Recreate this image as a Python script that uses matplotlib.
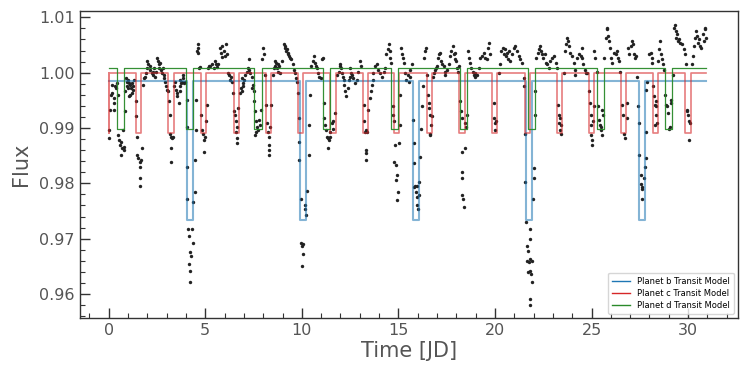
import matplotlib
matplotlib.use("Agg")
import matplotlib.pyplot as plt
import numpy as np

time = [
    0.00, 0.04, 0.07, 0.12, 0.16, 0.19, 0.25, 0.28, 0.28, 0.33, 0.39, 0.42, 0.47, 0.50, 0.55, 0.59, 0.64, 0.68,
    0.62, 0.77, 0.80, 0.73, 0.85, 0.85, 0.90, 0.94, 1.02, 1.07, 1.11, 1.15, 1.20, 1.25, 1.28, 1.20, 1.11, 1.07,
    1.02, 0.97, 1.33, 1.42, 1.42, 1.49, 1.45, 1.54, 1.60, 1.67, 1.63, 1.60, 1.60, 1.70,
    1.80, 1.84, 1.89, 1.94, 1.97, 2.00, 2.06, 2.12, 2.15, 2.23, 2.28, 2.32, 2.35, 2.40, 2.45, 2.50, 2.53, 2.58,
    2.63, 2.67, 2.72, 2.75, 2.80, 2.84, 2.89, 2.92, 2.98, 3.01, 3.07,
    3.12, 3.15, 3.18, 3.23, 3.28, 3.23, 3.25, 3.32,
    3.40, 3.45, 3.50, 3.53, 3.56, 3.62, 3.67, 3.70, 3.75, 3.78, 3.84, 3.87, 3.90, 3.96, 3.70,
    4.05, 4.08, 4.08, 4.08, 4.13, 4.18, 4.22, 4.25, 4.18, 4.22, 4.22, 4.30, 4.35, 4.39, 4.45, 4.48, 4.51, 4.53,
    4.57, 4.60, 4.63, 4.62, 4.70, 4.73,
    4.77, 4.82, 4.87, 4.95, 4.91, 5.00, 5.05, 5.08, 5.12, 5.17,
    5.26, 5.34, 5.43, 5.48, 5.55, 5.61, 5.68, 5.78, 5.83, 5.86, 5.95, 6.00, 6.06, 6.11, 5.89, 6.18, 6.24, 6.29,
    6.34, 6.38,
    6.46, 6.50, 6.55, 6.58, 6.63, 6.60, 6.63, 6.63, 6.72,
    6.78, 6.83, 6.90, 6.93, 6.98, 7.03, 7.06, 7.16, 7.21, 7.24, 7.29, 7.34, 7.41, 7.45, 7.50, 7.41, 6.90,
    7.55, 7.58, 7.62, 7.66, 7.63, 7.73, 7.79, 7.84, 7.58, 7.89,
    7.96, 8.01, 8.06, 8.10,
    8.16, 8.19, 8.24, 8.28, 8.28, 8.28, 8.31, 8.36, 8.41,
    8.49, 8.54, 8.59, 8.62, 8.68, 8.71, 8.76, 8.79, 8.83, 8.88, 8.96, 9.06, 9.11, 9.14, 9.19, 9.23, 9.28, 9.31,
    9.35, 9.40, 9.45, 9.52, 9.58, 9.63, 9.69, 9.74,
    9.79, 9.83, 9.88, 9.88, 9.94, 9.97, 10.01, 10.04, 10.08, 10.01, 10.14, 10.18, 10.21, 10.26, 10.36, 10.39, 10.42,
    10.49, 10.56, 10.61,
    10.69, 10.74, 10.81, 10.86, 10.91, 10.99, 11.04, 11.09,
    11.13, 11.17, 11.22, 11.27, 11.30, 11.34, 11.39, 11.34, 11.44, 11.47,
    11.56, 11.61, 11.64, 11.73,
    11.82, 11.90, 11.96, 11.99, 12.04, 12.07, 12.12, 12.16, 12.19, 12.24, 12.30, 12.37, 12.42, 12.47, 12.51,
    12.56, 12.62, 12.67, 12.76, 12.84, 12.93, 13.01, 13.06,
    13.20, 13.24, 13.29, 13.34, 13.34, 13.34, 13.30, 13.40, 13.45,
    13.51, 13.57, 13.62, 13.67, 13.71, 13.80, 13.89, 13.97, 14.06, 14.15, 14.24, 14.32, 14.37, 14.44, 14.50,
    14.55, 14.58, 14.62,
    14.70, 14.72, 14.75, 14.84, 14.79, 14.89, 14.92, 14.89, 14.96, 14.92, 15.01, 15.07, 15.10,
    15.15, 15.19, 15.24, 15.27, 15.36, 15.41, 15.48, 15.53, 15.58, 15.62, 15.70,
    15.76, 15.80, 15.83, 15.83, 15.88, 15.93, 15.97, 15.97, 16.00,
    15.96, 16.05, 16.08, 16.13, 16.18, 16.22, 16.26,
    16.31, 16.40, 16.43, 16.48,
    16.53, 16.57, 16.60, 16.65, 16.70, 16.65, 16.63, 16.73, 16.77,
    16.83, 16.88, 16.95, 17.00, 17.05, 17.12, 17.17, 17.22, 17.25, 17.35, 17.40, 17.43, 17.52, 17.60, 17.68,
    17.74, 17.81, 17.86, 17.91, 17.95, 17.98, 18.03, 18.08, 18.12,
    18.21, 18.25, 18.30, 18.30, 18.43, 18.30, 18.30, 18.30, 18.35, 18.38, 18.47, 18.50, 18.53,
    18.61, 18.68, 18.73, 18.78, 18.85, 18.90, 18.95, 18.98, 19.07, 19.15, 19.25, 19.33, 19.41, 19.50, 19.59,
    19.64, 19.71, 19.76,
    19.93, 19.96, 20.01, 19.98, 20.05,
    20.20, 20.28, 20.33, 20.40, 20.45, 20.50, 20.58, 20.63, 20.68, 20.75, 20.80, 20.89, 20.98, 21.06, 21.15,
    21.24, 21.32, 21.41, 21.49, 21.52,
    21.58, 21.58, 21.63, 21.66, 21.69, 21.66, 21.76, 21.69, 21.81, 21.84, 21.87, 21.92, 21.92, 21.81, 21.84,
    21.81, 21.81, 21.97, 22.01, 22.04, 22.09, 22.09,
    22.14, 22.22, 22.27, 22.32, 22.36, 22.44, 22.49, 22.57, 22.62, 22.70, 22.79, 22.87, 22.97, 23.05, 23.14, 23.19,
    23.25, 23.31, 23.37, 23.31, 23.40, 23.37, 23.43,
    23.57, 23.65, 23.70, 23.74, 23.79, 23.82, 23.91, 24.00, 24.09, 24.14, 24.17, 24.26, 24.34, 24.43, 24.49,
    24.52, 24.57, 24.64, 24.69, 24.78,
    24.87, 24.90, 24.95, 24.95, 24.99, 25.04, 25.00, 25.09, 25.12,
    25.15, 25.20, 25.26, 25.32, 25.37, 25.42, 25.47, 25.50, 25.55, 25.60, 25.55,
    25.67, 25.73, 25.78, 25.82, 25.85, 25.90, 25.95, 26.02, 26.07, 26.16, 26.25, 26.30, 26.37, 26.42, 26.50,
    26.59, 26.65, 26.68, 26.71, 26.82, 26.85,
    26.88, 26.93, 27.03, 27.08, 27.15, 27.20, 27.25, 27.31, 27.37,
    27.42, 27.45, 27.45, 27.54, 27.54, 27.60, 27.63, 27.63, 27.71, 27.76, 27.83, 27.80, 27.83,
    27.88, 27.98, 28.06, 28.11, 28.15, 28.20,
    28.23, 28.28, 28.32, 28.35, 28.32, 28.28, 28.40,
    28.46, 28.49, 28.54, 28.58, 28.63, 28.70, 28.75,
    28.83, 28.87, 28.92, 28.97, 29.00, 29.09, 29.14, 29.04,
    29.21, 29.26, 29.32, 29.35, 29.40, 29.43, 29.48, 29.52, 29.60, 29.70, 29.78, 29.84, 29.87,
    29.92, 29.95, 30.00, 30.07, 30.12, 30.03,
    30.21, 30.26, 30.33, 30.38, 30.43, 30.47, 30.52, 30.59, 30.64, 30.69, 30.77, 30.82, 30.87, 30.90, 30.95,
]
flux = [
    0.9881, 0.9896, 0.9933, 0.9960, 0.9978, 0.9963, 0.9954, 0.9945, 0.9933, 0.9975, 0.9972, 0.9981, 0.9960, 0.9887, 0.9878, 0.9869, 0.9875, 0.9863,
    0.9852, 0.9866, 0.9860, 0.9896, 0.9966, 0.9930, 0.9990, 0.9984, 0.9987, 0.9981, 0.9978, 0.9972, 0.9981, 0.9975, 0.9969, 0.9963, 0.9960, 0.9957,
    0.9972, 0.9975, 0.9987, 0.9948, 0.9921, 0.9884, 0.9851, 0.9845, 0.9839, 0.9842, 0.9830, 0.9809, 0.9796, 0.9863,
    0.9978, 0.9990, 0.9993, 0.9999, 1.0008, 1.0021, 1.0015, 1.0005, 1.0012, 0.9999, 0.9996, 1.0002, 1.0008, 0.9993, 1.0002, 1.0027, 1.0021, 1.0015,
    1.0008, 1.0018, 1.0005, 0.9999, 1.0008, 0.9996, 0.9990, 0.9984, 0.9975, 0.9969, 0.9966,
    0.9948, 0.9924, 0.9890, 0.9884, 0.9881, 0.9863, 0.9839, 0.9884,
    0.9975, 0.9984, 0.9969, 0.9963, 0.9957, 0.9945, 0.9966, 0.9975, 0.9981, 0.9984, 0.9990, 0.9996, 0.9981, 0.9984, 0.9987,
    0.9951, 0.9902, 0.9830, 0.9772, 0.9718, 0.9705, 0.9675, 0.9669, 0.9654, 0.9642, 0.9621, 0.9718, 0.9693, 0.9766, 0.9784, 0.9842, 0.9896, 0.9951,
    1.0039, 1.0045, 1.0051, 1.0036, 1.0008, 1.0010,
    0.9924, 0.9896, 0.9890, 0.9878, 0.9857, 0.9884, 0.9912, 0.9942, 1.0008, 1.0012,
    1.0012, 1.0015, 1.0008, 1.0021, 1.0015, 1.0010, 1.0015, 1.0045, 1.0036, 1.0048, 1.0039, 1.0030, 1.0051, 1.0033, 1.0028, 0.9999, 0.9996, 0.9987,
    0.9993, 0.9984,
    0.9963, 0.9930, 0.9924, 0.9912, 0.9902, 0.9893, 0.9881, 0.9872, 0.9936,
    0.9963, 0.9972, 0.9966, 0.9975, 0.9981, 0.9987, 0.9996, 1.0002, 1.0008, 1.0024, 1.0005, 0.9999, 0.9993, 0.9978, 0.9966, 0.9972, 0.9990,
    0.9948, 0.9930, 0.9912, 0.9902, 0.9893, 0.9896, 0.9915, 0.9905, 0.9887, 0.9933,
    1.0024, 1.0045, 1.0033, 0.9996,
    0.9942, 0.9909, 0.9893, 0.9884, 0.9869, 0.9860, 0.9851, 0.9902, 0.9942,
    0.9996, 1.0008, 1.0021, 1.0012, 1.0018, 1.0008, 1.0015, 1.0002, 1.0012, 0.9999, 1.0021, 1.0051, 1.0045, 1.0048, 1.0039, 1.0042, 1.0033, 1.0036,
    1.0030, 1.0027, 1.0024, 1.0015, 1.0005, 0.9999, 0.9990, 0.9984,
    0.9963, 0.9918, 0.9875, 0.9842, 0.9772, 0.9693, 0.9687, 0.9690, 0.9673, 0.9651, 0.9754, 0.9760, 0.9742, 0.9787, 0.9851, 0.9905, 0.9960,
    1.0012, 1.0021, 1.0030,
    1.0018, 1.0012, 1.0008, 0.9999, 0.9993, 0.9990, 1.0024, 1.0027,
    0.9945, 0.9918, 0.9905, 0.9896, 0.9884, 0.9881, 0.9878, 0.9863, 0.9884, 0.9893,
    0.9909, 0.9912, 0.9899, 0.9927,
    0.9996, 1.0002, 1.0012, 1.0015, 1.0008, 0.9999, 0.9993, 0.9987, 0.9978, 0.9966, 0.9957, 0.9972, 0.9987, 0.9993, 1.0008,
    0.9999, 0.9996, 0.9990, 0.9981, 0.9987, 1.0002, 1.0021, 1.0012,
    0.9942, 0.9912, 0.9893, 0.9896, 0.9860, 0.9854, 0.9842, 0.9893, 0.9933,
    0.9954, 0.9966, 0.9978, 0.9987, 0.9999, 1.0012, 1.0015, 1.0005, 0.9999, 0.9993, 1.0002, 1.0008, 1.0033, 1.0042, 1.0051,
    1.0039, 1.0027, 1.0018,
    0.9939, 0.9924, 0.9912, 0.9869, 0.9839, 0.9833, 0.9815, 0.9806, 0.9784, 0.9769, 0.9872, 0.9905, 0.9960,
    1.0045, 1.0033, 1.0027, 1.0018, 0.9999, 0.9987, 0.9996, 0.9984, 0.9993, 1.0005, 1.0015,
    0.9915, 0.9872, 0.9836, 0.9793, 0.9796, 0.9784, 0.9775, 0.9760, 0.9754,
    0.9796, 0.9802, 0.9778, 0.9848, 0.9899, 0.9939, 0.9975,
    1.0027, 1.0039, 1.0045, 0.9996,
    0.9960, 0.9945, 0.9936, 0.9924, 0.9905, 0.9890, 0.9887, 0.9921, 0.9993,
    0.9999, 1.0005, 1.0008, 1.0012, 1.0027, 1.0033, 1.0036, 1.0021, 1.0015, 1.0012, 1.0002, 0.9996, 1.0005, 1.0015, 1.0030,
    1.0039, 1.0048, 1.0033, 1.0024, 1.0036, 1.0021, 1.0008, 1.0002, 1.0012,
    0.9948, 0.9930, 0.9918, 0.9857, 0.9863, 0.9821, 0.9809, 0.9778, 0.9772, 0.9757, 0.9909, 0.9902, 0.9924,
    1.0039, 1.0027, 1.0018, 1.0008, 1.0002, 0.9996, 0.9993, 0.9999, 0.9996, 1.0008, 1.0027, 1.0030, 1.0036, 1.0027, 1.0024,
    1.0045, 1.0054, 1.0033,
    0.9945, 0.9918, 0.9909, 0.9896, 0.9912,
    0.9999, 1.0015, 1.0039, 1.0045, 1.0033, 1.0042, 1.0030, 1.0036, 1.0024, 1.0039, 1.0021, 1.0033, 1.0045, 1.0048, 1.0039,
    1.0030, 1.0024, 1.0018, 0.9990, 0.9975,
    0.9890, 0.9802, 0.9730, 0.9687, 0.9678, 0.9660, 0.9657, 0.9639, 0.9642, 0.9663, 0.9636, 0.9660, 0.9621, 0.9699, 0.9718,
    0.9591, 0.9580, 0.9772, 0.9809, 0.9827, 0.9924, 0.9966,
    1.0027, 1.0036, 1.0042, 1.0048, 1.0039, 1.0033, 1.0027, 1.0033, 1.0018, 1.0015, 1.0008, 1.0021, 1.0027, 1.0030, 1.0018, 1.0008,
    0.9942, 0.9924, 0.9918, 0.9909, 0.9905, 0.9896, 0.9890,
    0.9999, 1.0039, 1.0051, 1.0063, 1.0057, 1.0048, 1.0036, 1.0030, 1.0018, 0.9996, 1.0005, 1.0027, 1.0033, 1.0030, 1.0045,
    1.0027, 1.0015, 1.0005, 0.9999, 0.9999,
    0.9966, 0.9945, 0.9924, 0.9905, 0.9887, 0.9878, 0.9869, 0.9912, 0.9939,
    1.0039, 1.0027, 1.0002, 0.9939, 0.9915, 0.9905, 0.9896, 0.9902, 0.9933, 0.9924, 0.9887,
    1.0027, 1.0063, 1.0081, 1.0078, 1.0066, 1.0057, 1.0045, 1.0027, 1.0018, 1.0036, 1.0033, 1.0039, 1.0027, 1.0021, 1.0002,
    0.9942, 0.9924, 0.9890, 0.9881, 0.9918, 0.9945,
    1.0045, 1.0033, 1.0048, 1.0057, 1.0051, 1.0033, 1.0027, 1.0030, 0.9993,
    0.9939, 0.9909, 0.9851, 0.9815, 0.9799, 0.9793, 0.9790, 0.9772, 0.9809, 0.9830, 0.9845, 0.9893, 0.9969,
    0.9984, 1.0033, 1.0036, 1.0027, 1.0018, 0.9975,
    0.9957, 0.9942, 0.9948, 0.9939, 0.9924, 0.9905, 0.9909,
    1.0021, 1.0042, 1.0057, 1.0033, 1.0024, 1.0015, 1.0005,
    0.9960, 0.9942, 0.9939, 0.9927, 0.9899, 0.9951, 0.9945, 0.9902,
    0.9996, 1.0081, 1.0087, 1.0075, 1.0063, 1.0069, 1.0057, 1.0060, 1.0054, 1.0051, 1.0042, 1.0033, 1.0015,
    0.9933, 0.9930, 0.9924, 0.9912, 0.9909, 0.9878,
    1.0015, 1.0030, 1.0048, 1.0063, 1.0075, 1.0066, 1.0054, 1.0060, 1.0048, 1.0045, 1.0069, 1.0057, 1.0078, 1.0081, 1.0063,
]

# transit models: mid-transit times, duration, out-of-transit level, in-transit level
b_mid = [4.22, 10.07, 15.92, 21.76, 27.63]
b_dur, b_top, b_bottom = 0.33, 0.9985, 0.9734
c_mid = [-0.11, 1.56, 3.23, 4.90, 6.61, 8.26, 9.93, 11.61, 13.28, 14.90, 16.62, 18.29,
         19.99, 21.67, 23.34, 24.98, 26.66, 28.33, 30.00]
c_dur, c_top, c_bottom = 0.27, 1.0000, 0.98915
d_mid = [0.63, 4.20, 7.73, 11.29, 14.80, 18.36, 21.90, 25.45, 29.00]
d_dur, d_top, d_bottom = 0.37, 1.0009, 0.9898
t_start, t_end = 0.0, 30.95


def box_model(mids, dur, top, bottom):
    tt, ff = [t_start], [top]
    for m in mids:
        a, b = m - dur / 2, m + dur / 2
        tt += [a, a, b, b]
        ff += [top, bottom, bottom, top]
    tt.append(t_end)
    ff.append(top)
    return np.clip(tt, t_start, t_end), np.array(ff)


fig = plt.figure(figsize=(7.45, 3.76), dpi=100)
ax = fig.add_axes([0.107, 0.154, 0.884, 0.817])

ax.scatter(time, flux, s=6, color="#222222", zorder=1, linewidths=0)

tb, fb = box_model(b_mid, b_dur, b_top, b_bottom)
tc, fc = box_model(c_mid, c_dur, c_top, c_bottom)
td, fd = box_model(d_mid, d_dur, d_top, d_bottom)
ax.plot(tb, fb, color="#1f77b4", lw=1.5, alpha=0.55, label="Planet b Transit Model", zorder=2)
ax.plot(tc, fc, color="#d62728", lw=1.2, alpha=0.6, label="Planet c Transit Model", zorder=3)
ax.plot(td, fd, color="#2a8a2a", lw=0.9, alpha=0.95, label="Planet d Transit Model", zorder=4)

ax.set_xlim(-1.5, 32.6)
ax.set_ylim(0.95564, 1.01116)
ax.set_xticks([0, 5, 10, 15, 20, 25, 30])
ax.set_yticks([0.96, 0.97, 0.98, 0.99, 1.00, 1.01])
ax.set_yticklabels(["0.96", "0.97", "0.98", "0.99", "1.00", "1.01"])
ax.xaxis.set_minor_locator(matplotlib.ticker.MultipleLocator(1))
ax.yaxis.set_minor_locator(matplotlib.ticker.MultipleLocator(0.002))
ax.tick_params(which="both", direction="in", colors="#333333", labelcolor="#555555", labelsize=11.5)
ax.tick_params(which="major", length=7, width=1)
ax.tick_params(which="minor", length=3.5, width=0.8)
for s in ax.spines.values():
    s.set_color("#333333")
    s.set_linewidth(1)

ax.set_xlabel("Time [JD]", fontsize=15, color="#555555", labelpad=2)
ax.set_ylabel("Flux", fontsize=15, color="#555555", labelpad=6)

leg = ax.legend(loc="lower right", fontsize=6, frameon=True, handlelength=2.2,
                borderpad=0.5, labelspacing=0.35)
leg.get_frame().set_edgecolor("#cccccc")
for line in leg.get_lines():
    line.set_alpha(1)
    line.set_linewidth(1.0)

fig.savefig("out.png", dpi=100)
